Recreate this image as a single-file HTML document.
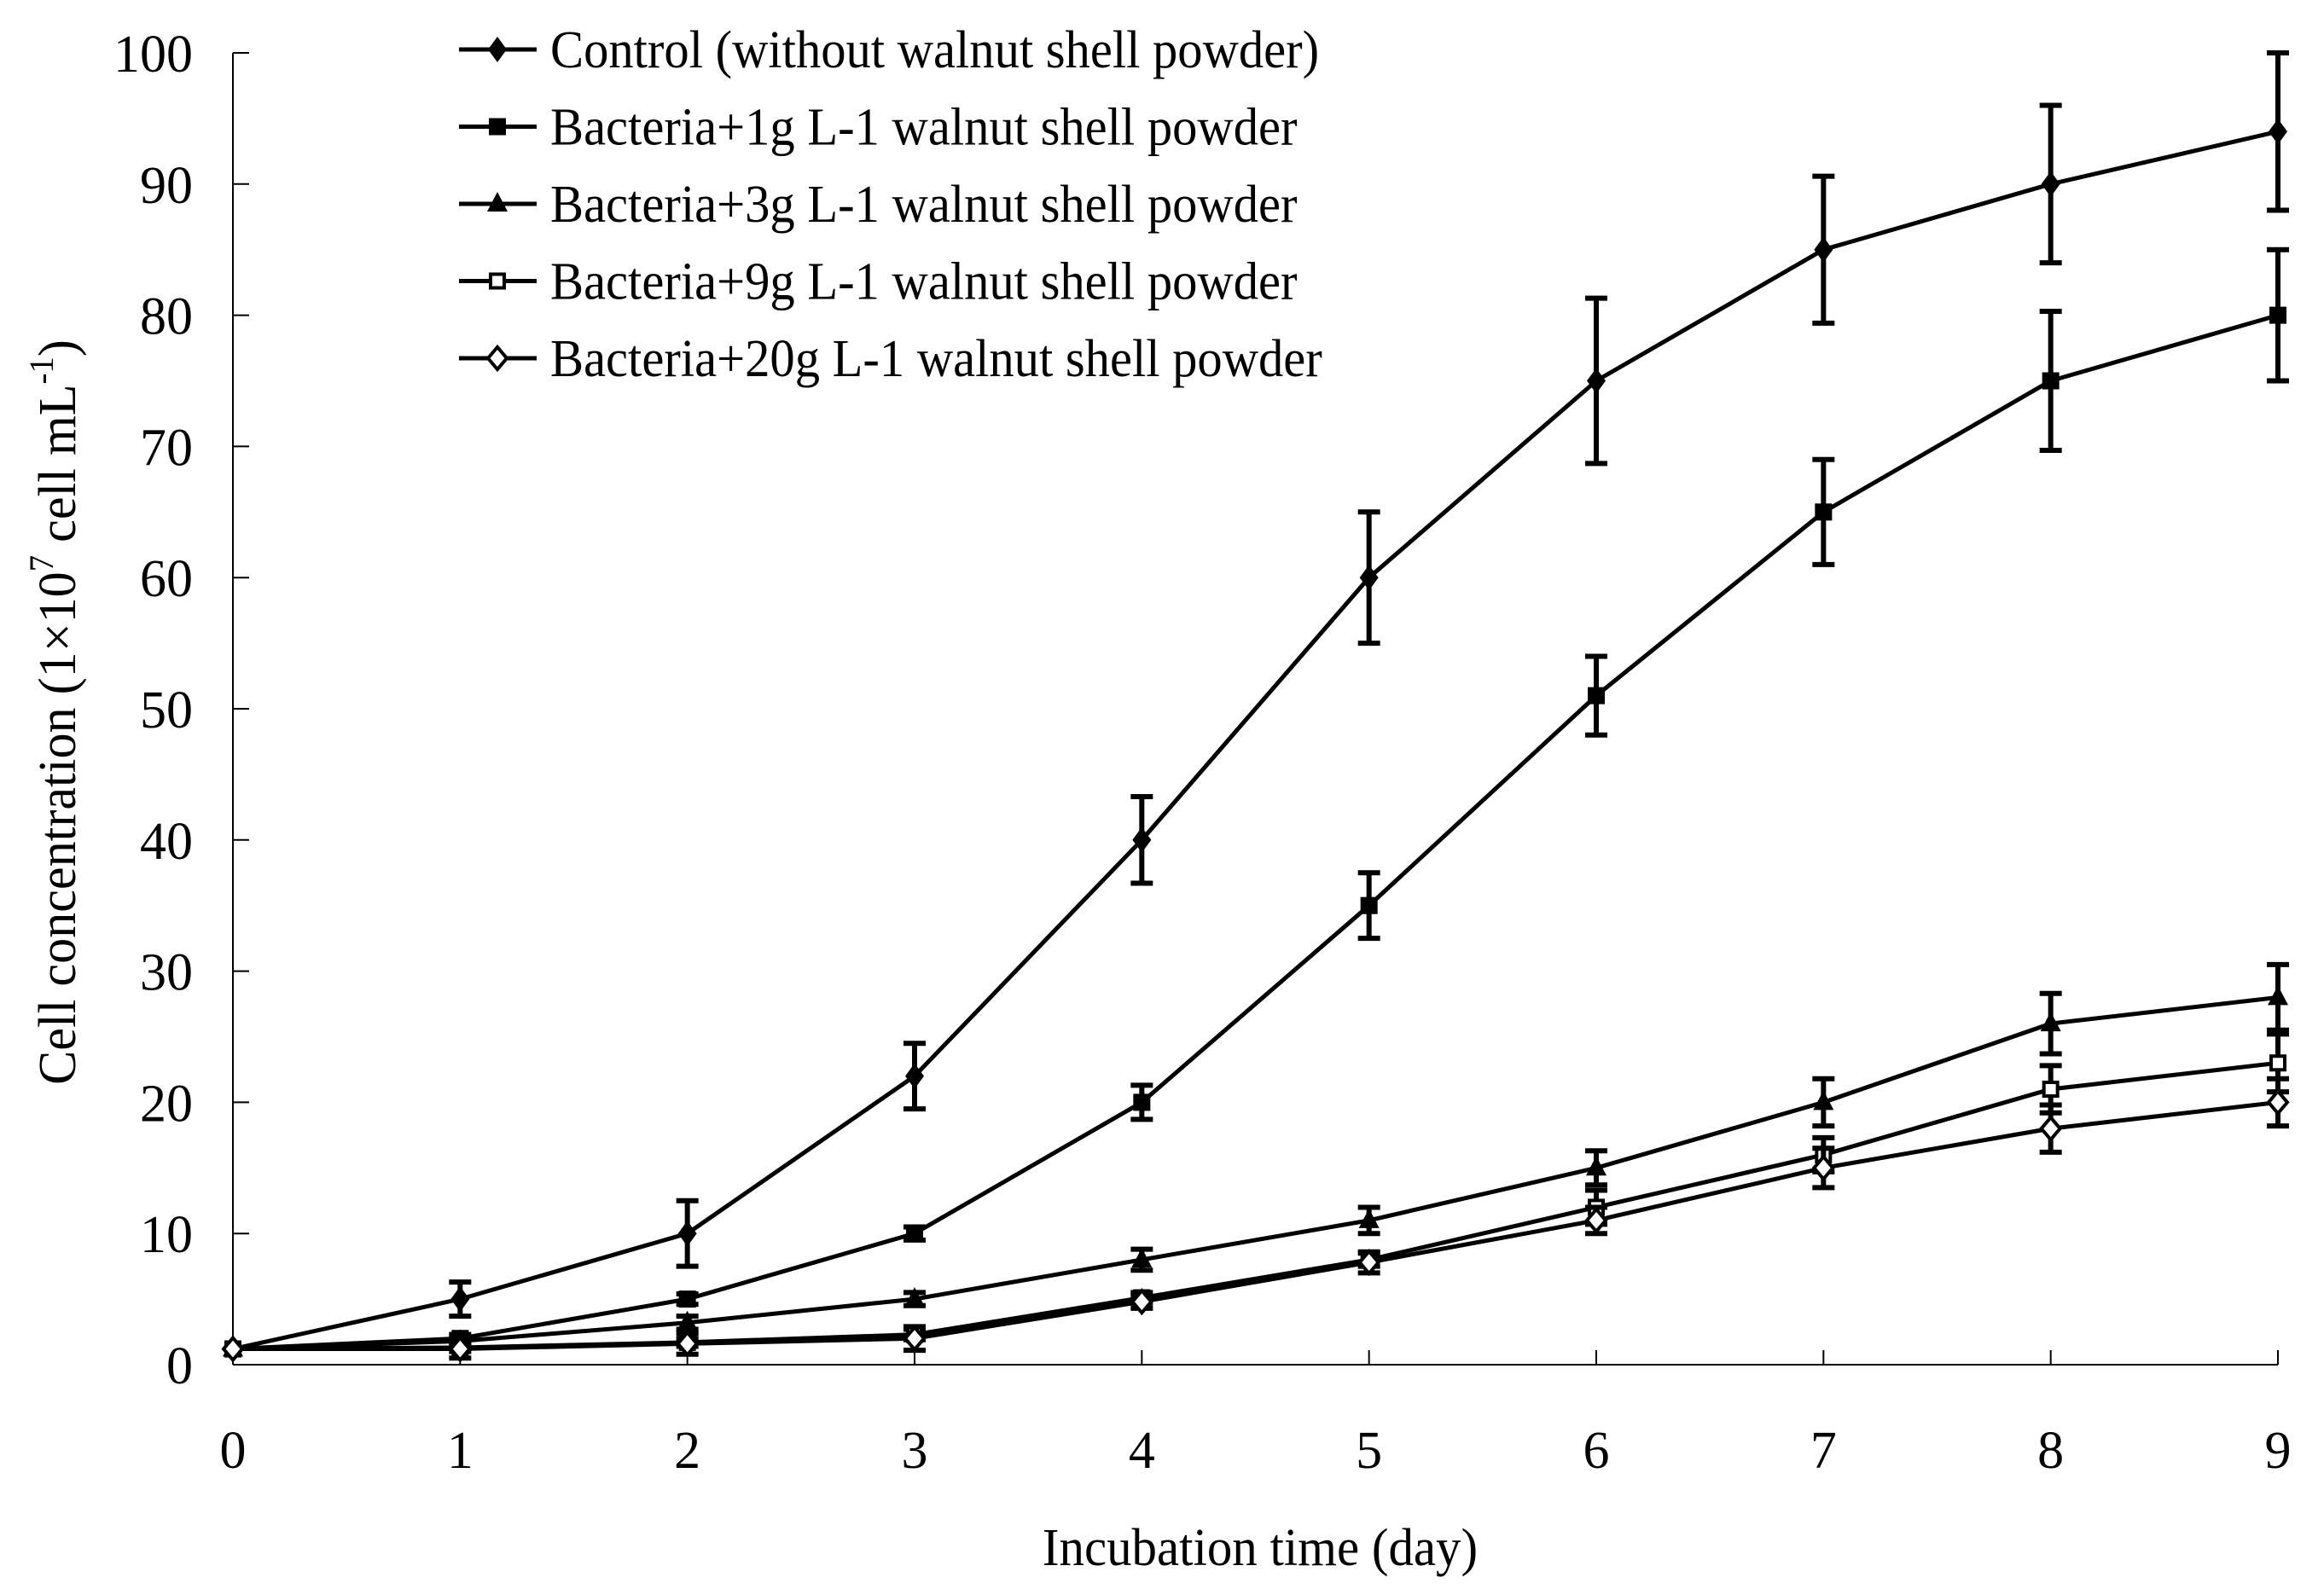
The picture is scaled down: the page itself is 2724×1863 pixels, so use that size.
<!DOCTYPE html>
<html><head><meta charset="utf-8"><style>
html,body{margin:0;padding:0;background:#fff;}
svg{display:block;font-family:"Liberation Serif","Times New Roman",serif;}
</style></head>
<body>
<svg id="chart" width="2724" height="1863" viewBox="0 0 2724 1863" xmlns="http://www.w3.org/2000/svg">
<g id="axes"></g>
<g id="series"></g>
<g id="legend"></g>
<text transform="translate(1477,1835) scale(0.95,1)" font-size="62" text-anchor="middle">Incubation time (day)</text>
<text transform="translate(88,835) rotate(-90) scale(0.97,1)" font-size="62" text-anchor="middle">Cell concentration (1×10<tspan font-size="40" dy="-26">7</tspan><tspan dy="26"> cell mL</tspan><tspan font-size="40" dy="-26">-1</tspan><tspan dy="26">)</tspan></text>
</svg>
<script>
const days = [0,1,2,3,4,5,6,7,8,9];
const xTicks = ["0","1","2","3","4","5","6","7","8","9"];
const yTicks = [0,10,20,30,40,50,60,70,80,90,100];
const seriesNames = ["Control (without walnut shell powder)","Bacteria+1g L-1 walnut shell powder","Bacteria+3g L-1 walnut shell powder","Bacteria+9g L-1 walnut shell powder","Bacteria+20g L-1 walnut shell powder"];
const seriesMarkers = ["diamond","square","triangle","squareOpen","diamondOpen"];
const controlVals = [1.2,5,10,22,40,60,75,85,90,94];
const controlErr = [0,1.3,2.5,2.5,3.3,5,6.3,5.6,6,6];
const g1Vals = [1.2,2,5,10,20,35,51,65,75,80];
const g1Err = [0,0.3,0.4,0.5,1.3,2.5,3,4,5.3,5];
const g3Vals = [1.2,1.8,3.2,5,8,11,15,20,26,28];
const g3Err = [0,0.3,0.5,0.5,0.8,1,1.3,1.8,2.3,2.5];
const g9Vals = [1.2,1.3,1.7,2.3,5.1,8,12,16,21,23];
const g9Err = [0,0.3,0.3,0.4,0.4,0.5,1.3,1.3,1.8,2.2];
const g20Vals = [1.2,1.2,1.6,2,4.8,7.8,11,15,18,20];
const g20Err = [0,0.7,0.8,0.9,0.5,0.8,1,1.5,1.8,1.8];
const allVals = [controlVals,g1Vals,g3Vals,g9Vals,g20Vals];
const allErr = [controlErr,g1Err,g3Err,g9Err,g20Err];

const NS="http://www.w3.org/2000/svg";
const X0=273,X1=2670,Y0=1600,Y1=62;
const xs=d=>X0+(X1-X0)*d/9;
const ys=v=>Y0-(Y0-Y1)*v/100;
function mk(tag,attrs,parent){const e=document.createElementNS(NS,tag);for(const k in attrs)e.setAttribute(k,attrs[k]);parent.appendChild(e);return e;}
const axes=document.getElementById('axes');
let a=mk('line',{x1:X0,y1:Y0,x2:X0,y2:Y1,stroke:'#000','stroke-width':2},axes);


a=mk('line',{x1:X0,y1:Y0,x2:X1,y2:Y0,stroke:'#000','stroke-width':2},axes);


yTicks.forEach(v=>{
  const t=mk('line',{x1:X0,y1:ys(v),x2:X0+19,y2:ys(v),stroke:'#000','stroke-width':2},axes);
  
  
  const l=mk('text',{x:226,y:ys(v)+22,'font-size':62,'text-anchor':'end'},axes);
  l.textContent=v;
  
  
});
days.forEach((d,i)=>{
  const t=mk('line',{x1:xs(d),y1:Y0,x2:xs(d),y2:Y0-17,stroke:'#000','stroke-width':2},axes);
  
  
  const l=mk('text',{x:xs(d),y:1721,'font-size':62,'text-anchor':'middle'},axes);
  l.textContent=xTicks[i];
  
  
});
function marker(type,cx,cy,parent){
  let e;
  if(type==='diamond') e=mk('polygon',{points:`${cx},${cy-15} ${cx+11},${cy} ${cx},${cy+15} ${cx-11},${cy}`,fill:'#000'},parent);
  else if(type==='square') e=mk('rect',{x:cx-10,y:cy-10,width:20,height:20,fill:'#000'},parent);
  else if(type==='triangle') e=mk('polygon',{points:`${cx},${cy-14} ${cx+12},${cy+9} ${cx-12},${cy+9}`,fill:'#000'},parent);
  else if(type==='squareOpen') e=mk('rect',{x:cx-8,y:cy-8,width:16,height:16,fill:'#fff',stroke:'#000','stroke-width':4},parent);
  else e=mk('polygon',{points:`${cx},${cy-13} ${cx+11},${cy} ${cx},${cy+13} ${cx-11},${cy}`,fill:'#fff',stroke:'#000','stroke-width':4},parent);
  return e;
}
const sg=document.getElementById('series');
allVals.forEach((vals,si)=>{
  const g=mk('g',{},sg);
  
  
  const p=mk('polyline',{points:vals.map((v,i)=>xs(days[i])+','+ys(v)).join(' '),fill:'none',stroke:'#000','stroke-width':5},g);
  
  
  vals.forEach((v,i)=>{
    const e=allErr[si][i];
    if(e>0){
      const x=xs(days[i]);
      const eg=mk('path',{d:`M${x},${ys(v+e)}V${ys(v-e)}M${x-13},${ys(v+e)}H${x+13}M${x-13},${ys(v-e)}H${x+13}`,stroke:'#000','stroke-width':6,fill:'none'},g);
      
      
    }
    const m=marker(seriesMarkers[si],xs(days[i]),ys(v),g);
    
    
  });
});
const lg=document.getElementById('legend');
seriesNames.forEach((n,i)=>{
  const y=58+i*90.5;
  const g=mk('g',{},lg);
  
  
  mk('line',{x1:538,y1:y,x2:629,y2:y,stroke:'#000','stroke-width':5},g);
  marker(seriesMarkers[i],583,y,g);
  const t=mk('text',{transform:`translate(645,${y+21}) scale(0.945,1)`,'font-size':62},g);
  t.textContent=n;
});
</script>
</body></html>
